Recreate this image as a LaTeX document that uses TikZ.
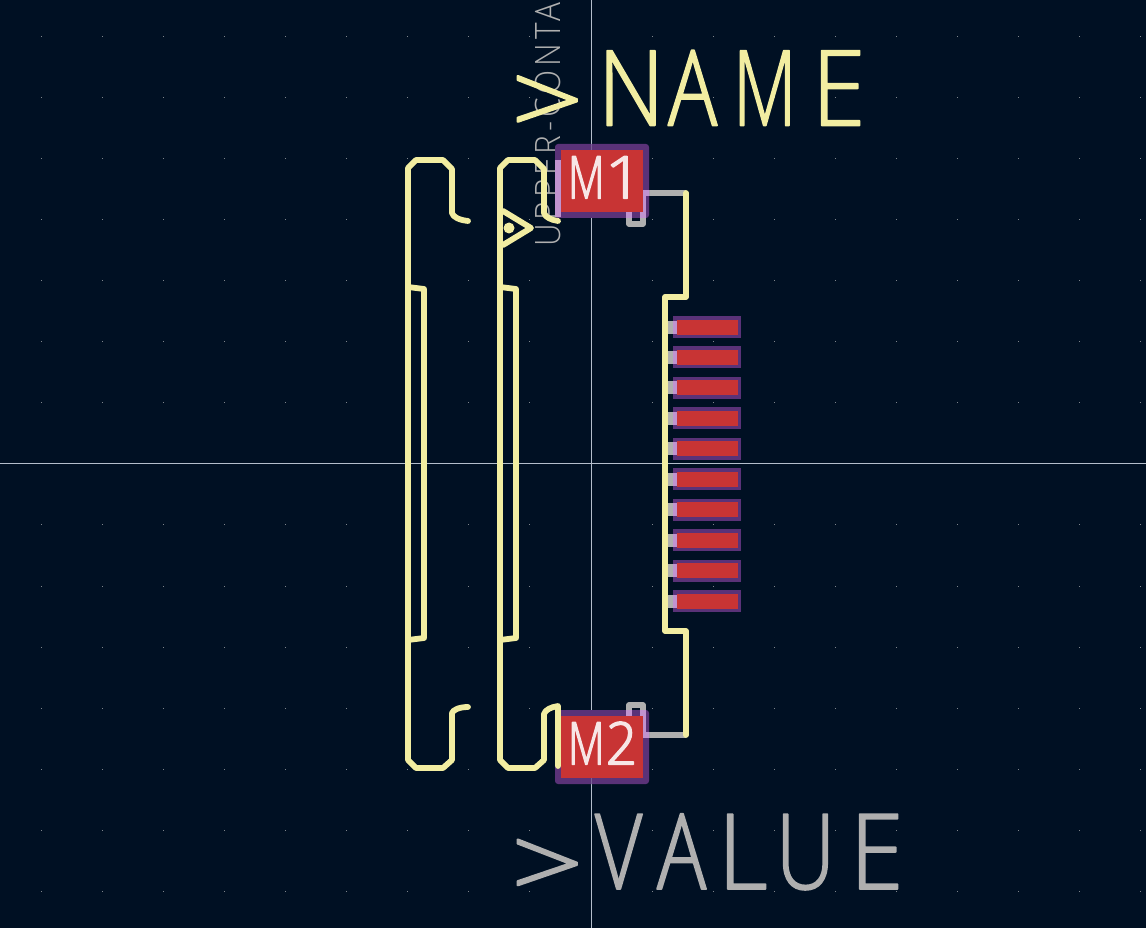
\documentclass[tikz,border=0pt]{standalone}
\usepackage{fontspec}
\newfontfamily\kfont[FakeStretch=.78,FakeBold=1.5]{Open Sans Light}
\newfontfamily\kfontpad[FakeStretch=.8,FakeBold=2.3]{Open Sans Light}
\newfontfamily\kfontthin[FakeStretch=.9,LetterSpace=11.5]{Open Sans Light}
\newcommand{\kgl}[3]{\makebox[#1pt][l]{\scalebox{#2}[1]{#3}}}
\newcommand{\kgt}[1]{\kgl{#1}{1}{\raisebox{-9.5pt}{\scalebox{1.55}[.95]{>}}}}
\definecolor{kbg}{HTML}{001023}
\definecolor{silk}{HTML}{F2EDA1}
\definecolor{fabg}{HTML}{AFAFAF}
\definecolor{padr}{HTML}{C83434}
\definecolor{clr}{HTML}{5A3278}
\definecolor{lightclr}{HTML}{C093D0}
\definecolor{axis}{HTML}{B4BECC}
\definecolor{griddot}{HTML}{7F858C}
\definecolor{padtxt}{HTML}{F7E6E6}
\tikzset{
  silkline/.style={draw=silk,line width=5.8pt,line join=round,line cap=round},
  fabline/.style={draw=fabg,line width=5.2pt,line join=round},
  overline/.style={draw=lightclr,line width=5.2pt,line join=round},
  axisline/.style={draw=axis,line width=1pt},
  txt/.style={inner sep=0pt,outer sep=0pt,anchor=base west,line join=round},
}
\begin{document}
\begin{tikzpicture}[x=1pt,y=-1pt]
\useasboundingbox (0,0) rectangle (1146,928);
\clip (0,0) rectangle (1146,928);
\fill[kbg] (0,0) rectangle (1146,928);
% grid
\foreach \i in {0,...,18}{\foreach \j in {0,...,14}{
  \fill[griddot] ({41.3+61.08*\i-0.5},{36.3+61.08*\j-0.5}) rectangle ++(1,1);
}}
% axes
\draw[axisline] (591.5,0) -- (591.5,928);
\draw[axisline] (0,463) -- (1146,463);
% rotated fab text
\node[txt,rotate=90,text=fabg] (ref) at (560,247) {\fontsize{35}{35}\kfontthin UPPER-CONTA};
% M1 lower fab
\def\PathOne{(629,212) -- (629,224) -- (643,224) -- (643,193) -- (686,193)}
\def\PathTwo{(629,716) -- (629,705) -- (643,705) -- (643,735) -- (686,735)}
\draw[fabline] \PathOne;
\draw[fabline] \PathTwo;
% large pads
\fill[clr,rounded corners=3pt] (555,144) rectangle (649,218);
\fill[clr,rounded corners=3pt] (555,710) rectangle (649,784);
\begin{scope}
  \clip (555,144) rectangle (649,218);
  \draw[overline] \PathOne;
\end{scope}
\begin{scope}
  \clip (555,710) rectangle (649,784);
  \draw[overline] \PathTwo;
\end{scope}
\fill[lightclr] (555,160) rectangle (561,217);
\draw[axis,opacity=.35,line width=1pt] (591.5,144) -- (591.5,150) (591.5,778) -- (591.5,784);
\fill[padr] (561,150) rectangle (643,212);
\fill[padr] (561,716) rectangle (643,778);
\node[txt,text=padtxt] (m1) at (568,198.5) {\fontsize{59}{59}\kfontpad\kgl{37}{.9}{M}\kgl{28}{1.4}{1}};
\node[txt,text=padtxt] (m2) at (568,764.5) {\fontsize{59}{59}\kfontpad\kgl{38}{.9}{M}\kgl{28}{1.15}{2}};
% small pads
\foreach \k in {0,...,9}{
  \pgfmathsetmacro{\cy}{327+30.45*\k}
  \fill[fabg] (668,\cy-6.5) rectangle (673,\cy+6.5);
  \fill[clr] (673,\cy-11) rectangle (741,\cy+11);
  \fill[lightclr] (673,\cy-6.5) rectangle (677,\cy+6.5);
  \fill[padr] (677,\cy-7.5) rectangle (738,\cy+7.5);
}
% silk outlines
\draw[silkline] (468,221) .. controls (459,220) and (453,217) .. (452,213) -- (452,169) -- (443,160) -- (416,160) -- (408,168) -- (408,760) -- (416,768) -- (443,768) -- (452,760) -- (452,713) .. controls (453,710) and (459,707) .. (468,707);
\draw[silkline] (408,287) -- (424,289) -- (424,638) -- (408,640);
\draw[silkline] (558,221) .. controls (551,220) and (545,217) .. (544,213) -- (544,169) -- (535,160) -- (508,160) -- (500,168) -- (500,760) -- (508,768) -- (535,768) -- (544,760) -- (544,714) .. controls (545,710) and (551,707) .. (558,706) -- (558,766);
\draw[silkline] (500,287) -- (516,289) -- (516,638) -- (500,640);
\draw[silkline] (503,211) -- (531,228) -- (503,245);
\fill[silk] (509,228) circle (5.5);
\draw[silkline] (686,193) -- (686,297) -- (665,297) -- (665,631) -- (686,631) -- (686,735);
% field texts
\node[txt,text=silk] (name) at (511,125.5) {\fontsize{105}{105}\kfont\kgt{87}\kgl{70}{1.12}{N}\kgl{65}{1}{A}\kgl{79}{.9}{M}\kgl{40}{1.18}{E}};
\node[txt,text=fabg] (value) at (511,889) {\fontsize{105}{105}\kfont\kgt{84}\kgl{62}{1}{V}\kgl{61}{1}{A}\kgl{58}{1.18}{L}\kgl{74}{1}{U}\kgl{40}{1.18}{E}};
\end{tikzpicture}
\end{document}
